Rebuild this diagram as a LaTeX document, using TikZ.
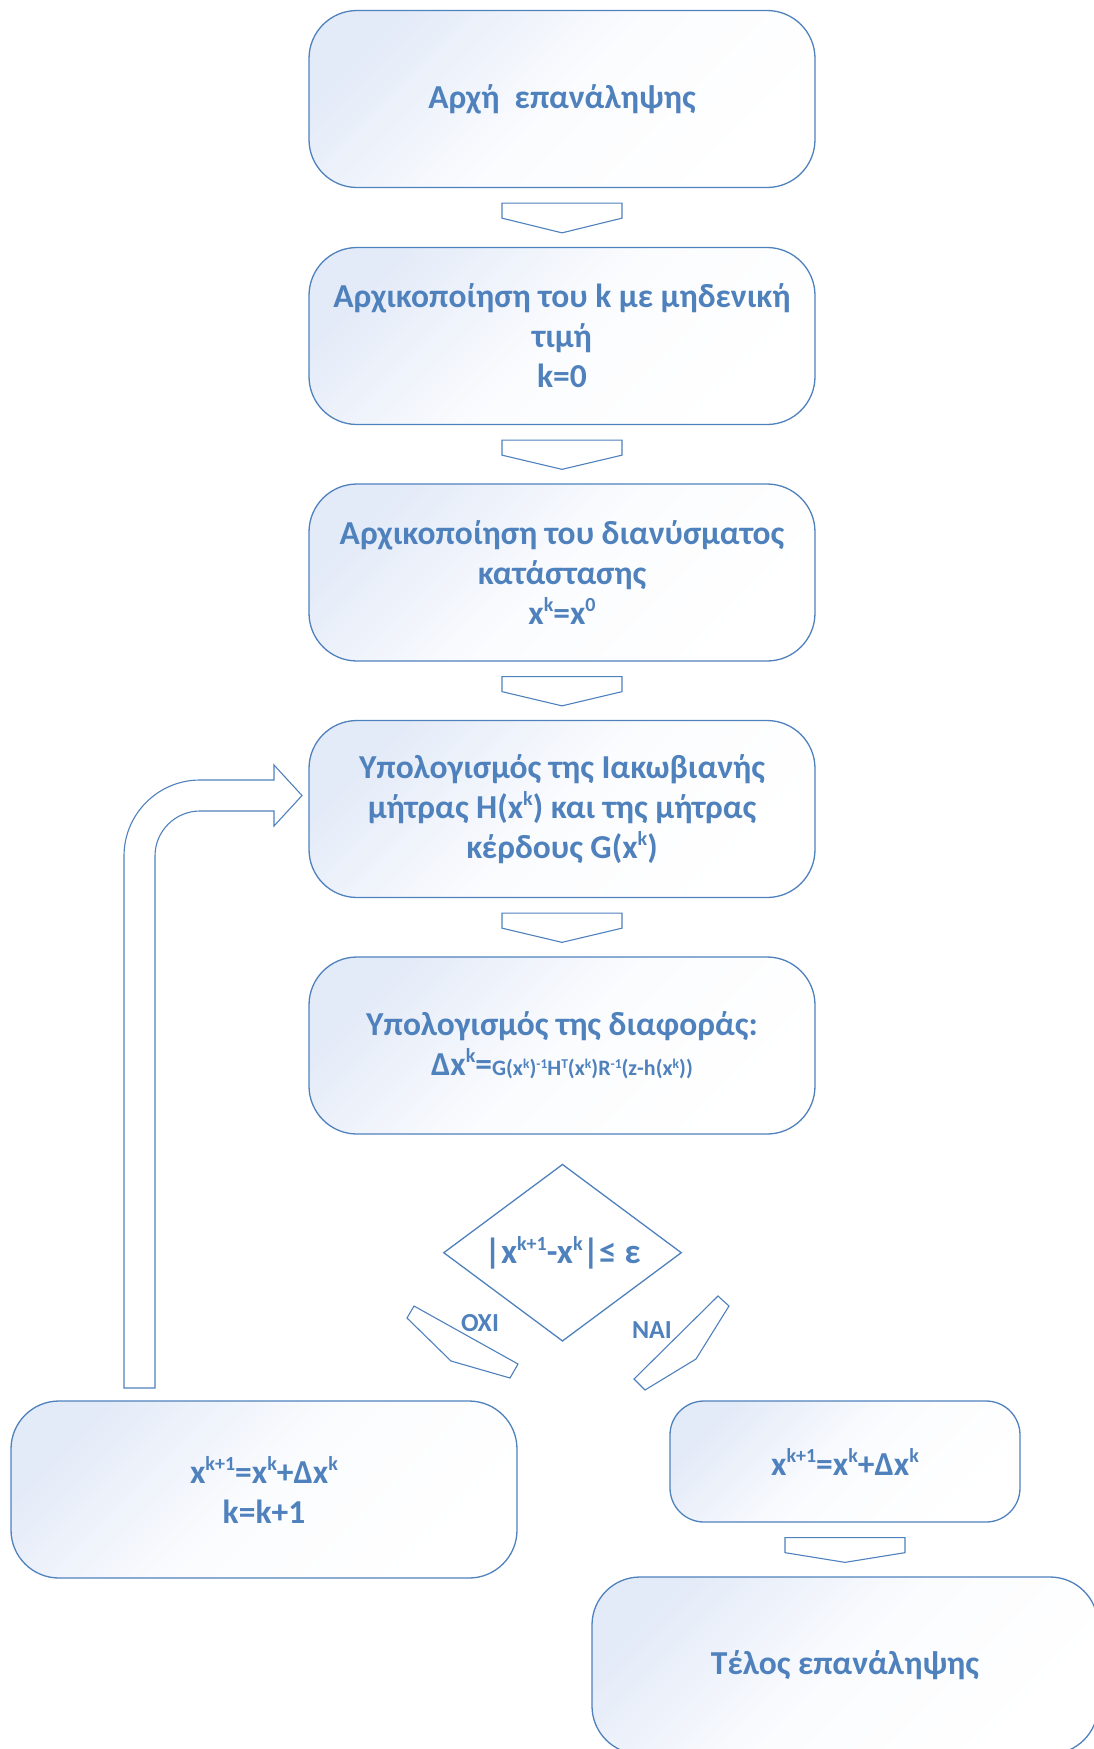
\documentclass[tikz,border=0pt]{standalone}
\usepackage{fontspec}
\setmainfont{Carlito}
\usetikzlibrary{calc,shapes.geometric}
\definecolor{flowblue}{RGB}{79,129,189}
\definecolor{boxtint}{RGB}{228,235,248}

% raised superscripts as set in the flowchart labels
\newcommand\sps[1]{\raisebox{13pt}{\fontsize{20}{20}\selectfont #1}}
\newcommand\ssps[1]{\raisebox{7.5pt}{\fontsize{13.5}{13.5}\selectfont #1}}

% down-pointing block arrow between two stacked boxes
\newcommand\chevron[2]{%
  \draw[blockarrow] ($(#1.south)+(-60,15)$) -- ($(#1.south)+(60,15)$)
    -- ($(#1.south)+(60,30)$) -- ($(#2.north)+(0,-14)$)
    -- ($(#1.south)+(-60,30)$) -- cycle;}

\begin{document}
\begin{tikzpicture}[x=1pt,y=-1pt,
  stage/.style={draw=flowblue, line width=1.3pt, rounded corners=48pt,
    top color=boxtint, bottom color=white, middle color=boxtint!15!white,
    shading angle=45,
    minimum width=506pt, minimum height=177pt, inner sep=0pt,
    align=center, text=flowblue,
    font=\fontsize{33.5}{40}\selectfont\bfseries},
  smallstage/.style={stage, rounded corners=34pt,
    minimum width=350pt, minimum height=121pt},
  blockarrow/.style={draw=flowblue, line width=1.1pt, fill=white},
  decision/.style={shape=diamond, draw=flowblue, line width=1.3pt, fill=white,
    minimum width=238pt, minimum height=177pt, inner sep=0pt},
  label/.style={text=flowblue, font=\fontsize{35}{40}\selectfont\bfseries},
  answer/.style={text=flowblue, font=\fontsize{26}{30}\selectfont\bfseries}
]
\useasboundingbox (0,0) rectangle (1094,1749);
\clip (0,0) rectangle (1094,1749);

% main column
\node[stage] (start) at (562,99) {Αρχή\ \ επανάληψης};
\node[stage] (initk) at (562,336) {Αρχικοποίηση του k με μηδενική\\τιμή\\k=0};
\node[stage] (initx) at (562,572.5) {Αρχικοποίηση του διανύσματος\\κατάστασης\\x\sps{k}=x\sps{0}};
\node[stage] (jac) at (562,809) {Υπολογισμός της Ιακωβιανής\\μήτρας H(x\sps{k}) και της μήτρας\\κέρδους G(x\sps{k})};
\node[stage] (diff) at (562,1045.5) {Υπολογισμός της διαφοράς:\\Δx\sps{k}={\fontsize{22}{24}\selectfont G(x\ssps{k})\ssps{-1}H\ssps{T}(x\ssps{k})R\ssps{-1}(z-h(x\ssps{k}))}};

\chevron{start}{initk}
\chevron{initk}{initx}
\chevron{initx}{jac}
\chevron{jac}{diff}

% convergence test
\node[decision] (test) at (562.5,1252.7) {};
\node[label] (testtext) at (test) {|x\sps{k+1}-x\sps{k}|≤ ε};

% branches
\draw[blockarrow] (407,1318) -- (414,1306) -- (518,1364) -- (510,1378) -- (451,1361) -- cycle;
\draw[blockarrow] (634,1379) -- (718,1296) -- (729,1306) -- (696,1359) -- (645,1390) -- cycle;
\node[answer] (no) at (480,1323) {OXI};
\node[answer] (yes) at (652,1330) {NAI};

\node[stage] (upd) at (264,1489.5) {x\sps{k+1}=x\sps{k}+Δx\sps{k}\\k=k+1};
\node[smallstage] (final) at (845,1461.5) {x\sps{k+1}=x\sps{k}+Δx\sps{k}};
\node[stage] (finish) at (845,1665.5) {Τέλος επανάληψης};
\chevron{final}{finish}

% loop back to the Jacobian step
\draw[blockarrow] (124,1388) -- (124,856) arc[start angle=180,end angle=270,radius=76]
  -- (274,780) -- (274,765) -- (302,795.5) -- (274,826) -- (274,811) -- (200,811)
  arc[start angle=270,end angle=180,radius=45] -- (155,1388) -- cycle;
\end{tikzpicture}
\end{document}
